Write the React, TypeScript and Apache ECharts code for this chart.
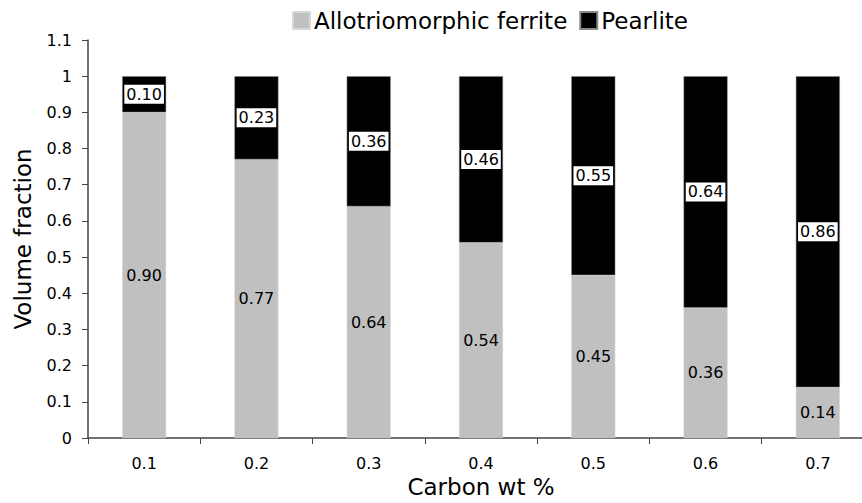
import React, { useEffect, useRef } from "react";
import * as echarts from "echarts";

const categories = ["0.1", "0.2", "0.3", "0.4", "0.5", "0.6", "0.7"];
const ferrite = [0.9, 0.77, 0.64, 0.54, 0.45, 0.36, 0.14];
const pearlite = [0.1, 0.23, 0.36, 0.46, 0.55, 0.64, 0.86];
const seriesNames = ["Allotriomorphic ferrite", "Pearlite"];

const FONT = "DejaVu Sans, Verdana, sans-serif";

export default function App() {
  const ref = useRef<HTMLDivElement>(null);
  useEffect(() => {
    document.body.style.margin = "0";
    if (!ref.current) return;
    const chart = echarts.init(ref.current, undefined, { renderer: "svg" });
    chart.setOption({
      animation: false,
      textStyle: { fontFamily: FONT, color: "#000" },
      legend: {
        left: 287,
        top: 4,
        itemWidth: 17,
        itemHeight: 17,
        itemGap: 12,
        icon: "rect",
        textStyle: { fontFamily: FONT, fontSize: 23, color: "#000", padding: [0, 0, 0, -1] },
        data: seriesNames,
      },
      grid: {
        left: 88,
        top: 40,
        width: 786,
        height: 398,
        containLabel: false,
        outerBoundsMode: "none",
      },
      xAxis: {
        type: "category",
        data: categories,
        name: "Carbon wt %",
        nameLocation: "middle",
        nameGap: 36,
        nameTextStyle: { fontFamily: FONT, fontSize: 23, color: "#000" },
        axisLine: { lineStyle: { color: "#444", width: 1.5 } },
        axisTick: { show: true, length: 6, lineStyle: { color: "#444" } },
        axisLabel: { fontFamily: FONT, fontSize: 16, color: "#000", margin: 17 },
      },
      yAxis: {
        type: "value",
        min: 0,
        max: 1.1,
        interval: 0.1,
        name: "Volume fraction",
        nameLocation: "middle",
        nameGap: 54,
        nameTextStyle: { fontFamily: FONT, fontSize: 23, color: "#000" },
        splitLine: { show: false },
        axisLine: { show: true, lineStyle: { color: "#444", width: 1.5 } },
        axisTick: { show: true, length: 6, lineStyle: { color: "#444" } },
        axisLabel: {
          fontFamily: FONT,
          fontSize: 16,
          color: "#000",
          margin: 16,
          formatter: (v: number) => String(Math.round(v * 10) / 10),
        },
      },
      series: [
        {
          name: seriesNames[0],
          type: "bar",
          stack: "total",
          data: ferrite,
          barWidth: 44,
          itemStyle: { color: "#c0c0c0", borderColor: "#d8d8d8", borderWidth: 0.5 },
          label: {
            show: true,
            position: "inside",
            fontFamily: FONT,
            fontSize: 16,
            color: "#000",
            formatter: (p: any) => p.value.toFixed(2),
          },
        },
        {
          name: seriesNames[1],
          type: "bar",
          stack: "total",
          data: pearlite,
          barWidth: 44,
          itemStyle: { color: "#000", borderColor: "#888", borderWidth: 0.5 },
          label: {
            show: true,
            position: "inside",
            fontFamily: FONT,
            fontSize: 16,
            color: "#000",
            backgroundColor: "#fff",
            padding: [2, 2, 1, 2],
            formatter: (p: any) => p.value.toFixed(2),
          },
        },
      ],
    });
    return () => chart.dispose();
  }, []);
  return <div ref={ref} style={{ width: 862, height: 503, overflow: "hidden" }} />;
}
